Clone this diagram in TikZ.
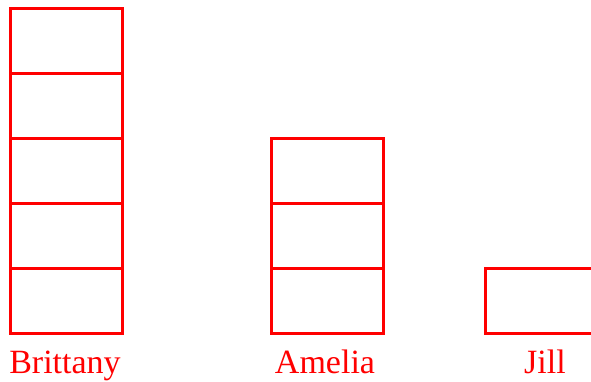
\documentclass[tikz,border=0pt]{standalone}
\usepackage{fontspec}
\setmainfont{Liberation Serif}
\begin{document}
\begin{tikzpicture}[x=1pt,y=-1pt,
  unitbox/.style={draw=red,line width=2.6pt,minimum width=112pt,minimum height=65pt,inner sep=0pt,anchor=north west},
  namelabel/.style={text=red,font=\fontsize{34}{38}\selectfont,anchor=base,inner sep=0pt}]
\clip (0,0) rectangle (591,381);
\useasboundingbox (0,0) rectangle (591,381);
% Brittany
\node[unitbox] (b1) at (9,7) {};
\node[unitbox] (b2) at (9,72) {};
\node[unitbox] (b3) at (9,137) {};
\node[unitbox] (b4) at (9,202) {};
\node[unitbox] (b5) at (9,267) {};
% Amelia
\node[unitbox] (a1) at (270,137) {};
\node[unitbox] (a2) at (270,202) {};
\node[unitbox] (a3) at (270,267) {};
% Jill
\node[unitbox] (j1) at (484,267) {};
% labels
\node[namelabel] (lb) at (65,373) {Brittany};
\node[namelabel] (la) at (325,373) {Amelia};
\node[namelabel] (lj) at (545,373) {Jill};
\end{tikzpicture}
\end{document}
